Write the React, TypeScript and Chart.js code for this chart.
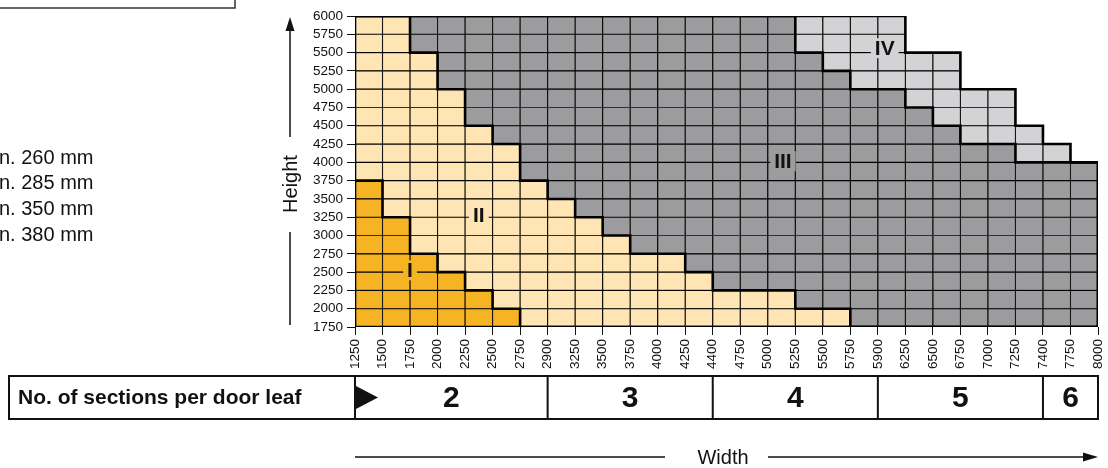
import React, { useEffect, useRef } from 'react';
import { Chart, registerables } from 'chart.js';

Chart.register(...registerables);

const FONT = '"Liberation Sans", Arial, Helvetica, sans-serif';

// Width tick labels (column boundaries)
const widthLabels = ['1250', '1500', '1750', '2000', '2250', '2500', '2750', '2900', '3250', '3500', '3750', '4000', '4250', '4400', '4750', '5000', '5250', '5500', '5750', '5900', '6250', '6500', '6750', '7000', '7250', '7400', '7750', '8000'];

// Height axis
const heightMin = 1750;
const heightMax = 6000;
const heightStep = 250;

// Upper edge of each zone, per width column (27 columns)
const zoneITop = [3750, 3250, 2750, 2500, 2250, 2000, 1750, 1750, 1750, 1750, 1750, 1750, 1750, 1750, 1750, 1750, 1750, 1750, 1750, 1750, 1750, 1750, 1750, 1750, 1750, 1750, 1750];
const zoneIITop = [6000, 6000, 5500, 5000, 4500, 4250, 3750, 3500, 3250, 3000, 2750, 2750, 2500, 2250, 2250, 2250, 2000, 2000, 1750, 1750, 1750, 1750, 1750, 1750, 1750, 1750, 1750];
const zoneIIITop = [6000, 6000, 6000, 6000, 6000, 6000, 6000, 6000, 6000, 6000, 6000, 6000, 6000, 6000, 6000, 6000, 5500, 5250, 5000, 5000, 4750, 4500, 4250, 4250, 4000, 4000, 4000];
const zoneIVTop = [6000, 6000, 6000, 6000, 6000, 6000, 6000, 6000, 6000, 6000, 6000, 6000, 6000, 6000, 6000, 6000, 6000, 6000, 6000, 6000, 5500, 5500, 5000, 5000, 4500, 4250, 4000];

const zoneNames = ['I', 'II', 'III', 'IV'];
// label anchor in data coordinates (column index, height)
const zoneLabelCol = [2, 4.5, 15.55, 19.25];
const zoneLabelHeight = [2525, 3280, 4015, 5560];

// Sections per door leaf
const sectionBreaks = ['1250', '2900', '4400', '5900', '7400', '8000'];
const sectionCounts = ['2', '3', '4', '5', '6'];

// Cut-off legend fragments on the left
const legendFragments = ['n. 260 mm', 'n. 285 mm', 'n. 350 mm', 'n. 380 mm'];

const zoneColors = ['#F6B425', '#FEE5B3', '#9C9C9E', '#D3D3D5'];
const INK = '#111111';

export default function App() {
  const canvasRef = useRef<HTMLCanvasElement | null>(null);

  useEffect(() => {
    const canvas = canvasRef.current;
    if (!canvas) return;

    const nCols = widthLabels.length - 1;
    const columnLabels = widthLabels.slice(0, nCols).map((w, i) => `${w}-${widthLabels[i + 1]}`);
    const zoneTops = [zoneITop, zoneIITop, zoneIIITop, zoneIVTop];
    const nRows = Math.round((heightMax - heightMin) / heightStep);

    const cellDatasets: any[] = [];
    for (let r = 0; r < nRows; r++) {
      const lo = heightMin + r * heightStep;
      const hi = lo + heightStep;
      const data = columnLabels.map((_, c) => (hi <= zoneIVTop[c] ? [lo, hi] : null));
      const colors = columnLabels.map((_, c) => {
        const z = zoneTops.findIndex((t) => hi <= t[c]);
        return zoneColors[z < 0 ? 3 : z];
      });
      cellDatasets.push({
        type: 'bar',
        label: `row ${lo}`,
        data,
        backgroundColor: colors,
        borderColor: '#000',
        borderWidth: 0.9,
        borderSkipped: false,
        barPercentage: 1,
        categoryPercentage: 1,
        grouped: false,
        xAxisID: 'x',
        yAxisID: 'y',
        order: 2,
      });
    }

    const stepLine = (tops: number[]) => {
      const pts = tops.map((v, c) => ({ x: c, y: v }));
      pts.push({ x: nCols, y: heightMin });
      return pts;
    };
    const outerPts = [{ x: 0, y: heightMin }, ...stepLine(zoneIVTop), { x: 0, y: heightMin }];

    const lineBase = {
      type: 'line',
      stepped: true,
      borderColor: '#000',
      borderWidth: 2.6,
      borderJoinStyle: 'miter',
      borderCapStyle: 'square',
      pointRadius: 0,
      fill: false,
      xAxisID: 'xw',
      yAxisID: 'y',
      order: 1,
    };
    const lineDatasets: any[] = [
      { ...lineBase, label: 'I/II', data: stepLine(zoneITop) },
      { ...lineBase, label: 'II/III', data: stepLine(zoneIITop) },
      { ...lineBase, label: 'III/IV', data: stepLine(zoneIIITop) },
      { ...lineBase, label: 'outline', data: outerPts },
    ];

    const decor = {
      id: 'decor',
      afterDatasetsDraw(chart: any) {
        const ctx = chart.ctx;
        const xs = chart.scales.xw;
        const ys = chart.scales.y;
        ctx.save();
        ctx.font = `bold 21px ${FONT}`;
        ctx.textAlign = 'center';
        ctx.textBaseline = 'middle';
        zoneNames.forEach((name, i) => {
          const px = xs.getPixelForValue(zoneLabelCol[i]);
          const py = ys.getPixelForValue(zoneLabelHeight[i]);
          const w = ctx.measureText(name).width;
          ctx.fillStyle = zoneColors[i];
          ctx.fillRect(px - w / 2 - 4, py - 10, w + 8, 20);
          ctx.fillStyle = INK;
          ctx.fillText(name, px, py + 1);
        });
        ctx.restore();
      },
      afterDraw(chart: any) {
        const ctx = chart.ctx;
        const area = chart.chartArea;
        const xs = chart.scales.xw;
        ctx.save();

        // cut-off box at the top left
        ctx.strokeStyle = '#333';
        ctx.lineWidth = 1.5;
        ctx.beginPath();
        ctx.moveTo(0, 8);
        ctx.lineTo(235, 8);
        ctx.lineTo(235, 0);
        ctx.stroke();

        // cut-off legend fragments
        ctx.fillStyle = INK;
        ctx.font = `20px ${FONT}`;
        ctx.textAlign = 'left';
        ctx.textBaseline = 'middle';
        legendFragments.forEach((t, i) => {
          ctx.fillText(t, -1, 158 + i * 25.7);
        });

        // Height axis title with arrow
        const hx = 290;
        ctx.strokeStyle = INK;
        ctx.lineWidth = 1.5;
        ctx.beginPath();
        ctx.moveTo(hx, 137);
        ctx.lineTo(hx, 26);
        ctx.moveTo(hx, 232);
        ctx.lineTo(hx, area.bottom - 2);
        ctx.stroke();
        ctx.beginPath();
        ctx.moveTo(hx, area.top + 1);
        ctx.lineTo(hx - 4.5, area.top + 15);
        ctx.lineTo(hx + 4.5, area.top + 15);
        ctx.closePath();
        ctx.fill();
        ctx.save();
        ctx.translate(hx + 1, 184);
        ctx.rotate(-Math.PI / 2);
        ctx.font = `20px ${FONT}`;
        ctx.textAlign = 'center';
        ctx.textBaseline = 'middle';
        ctx.fillText('Height', 0, 0);
        ctx.restore();

        // Sections table
        const tTop = 376;
        const tBot = 419;
        const tLeft = 9;
        ctx.lineWidth = 2;
        ctx.strokeStyle = INK;
        ctx.strokeRect(tLeft, tTop, area.right - tLeft, tBot - tTop);
        ctx.beginPath();
        const breakPx = sectionBreaks.map((b) => xs.getPixelForValue(widthLabels.indexOf(b)));
        breakPx.forEach((p, i) => {
          if (i === breakPx.length - 1) return;
          ctx.moveTo(p, tTop);
          ctx.lineTo(p, tBot);
        });
        ctx.stroke();
        const tMid = (tTop + tBot) / 2;
        ctx.font = `bold 21px ${FONT}`;
        ctx.textAlign = 'left';
        ctx.textBaseline = 'middle';
        ctx.fillText('No. of sections per door leaf', 18, tMid + 1);
        ctx.font = `bold 30px ${FONT}`;
        ctx.textAlign = 'center';
        sectionCounts.forEach((s, i) => {
          ctx.fillText(s, (breakPx[i] + breakPx[i + 1]) / 2, tMid + 1);
        });
        // triangle marker
        ctx.beginPath();
        ctx.moveTo(breakPx[0], tMid - 12);
        ctx.lineTo(breakPx[0] + 23, tMid);
        ctx.lineTo(breakPx[0], tMid + 12);
        ctx.closePath();
        ctx.fill();

        // Width axis title with arrow
        const wy = 457;
        const wx = 723;
        ctx.font = `20px ${FONT}`;
        ctx.textAlign = 'center';
        ctx.textBaseline = 'middle';
        ctx.fillText('Width', wx, wy + 1);
        ctx.lineWidth = 1.5;
        ctx.beginPath();
        ctx.moveTo(area.left, wy);
        ctx.lineTo(665, wy);
        ctx.moveTo(768, wy);
        ctx.lineTo(area.right - 12, wy);
        ctx.stroke();
        ctx.beginPath();
        ctx.moveTo(area.right, wy);
        ctx.lineTo(area.right - 15, wy - 4.5);
        ctx.lineTo(area.right - 15, wy + 4.5);
        ctx.closePath();
        ctx.fill();

        ctx.restore();
      },
    };

    const chart = new Chart(canvas, {
      type: 'bar',
      data: {
        labels: columnLabels,
        datasets: [...lineDatasets, ...cellDatasets],
      },
      options: {
        animation: false,
        responsive: true,
        maintainAspectRatio: false,
        devicePixelRatio: 1,
        layout: { padding: { left: 295, right: 10, top: 16, bottom: 81 } },
        plugins: {
          legend: { display: false },
          tooltip: { enabled: false },
        },
        scales: {
          x: { type: 'category', display: false, offset: true },
          xw: {
            type: 'linear',
            position: 'bottom',
            offset: false,
            min: 0,
            max: nCols,
            afterFit: (s: any) => {
              s.height = 60;
              s.paddingLeft = 0;
              s.paddingRight = 0;
            },
            ticks: {
              stepSize: 1,
              autoSkip: false,
              maxRotation: 90,
              minRotation: 90,
              padding: 4,
              color: INK,
              font: { family: FONT, size: 13.5 },
              callback: (v: any) => widthLabels[v] ?? '',
            },
            grid: { offset: false, drawOnChartArea: false, drawTicks: true, tickLength: 8, color: INK, lineWidth: 1 },
            border: { display: false },
          },
          y: {
            type: 'linear',
            min: heightMin,
            max: heightMax,
            afterFit: (s: any) => {
              s.width = 60;
            },
            ticks: {
              stepSize: heightStep,
              autoSkip: false,
              padding: 4,
              color: INK,
              font: { family: FONT, size: 13.5 },
              callback: (v: any) => String(v),
            },
            grid: { drawOnChartArea: false, drawTicks: true, tickLength: 8, color: INK, lineWidth: 1 },
            border: { display: false },
          },
        },
      } as any,
      plugins: [decor],
    } as any);

    return () => {
      chart.destroy();
    };
  }, []);

  return (
    <div style={{ position: 'fixed', left: 0, top: 0, width: 1108, height: 468, background: '#fff' }}>
      <canvas ref={canvasRef} />
    </div>
  );
}
